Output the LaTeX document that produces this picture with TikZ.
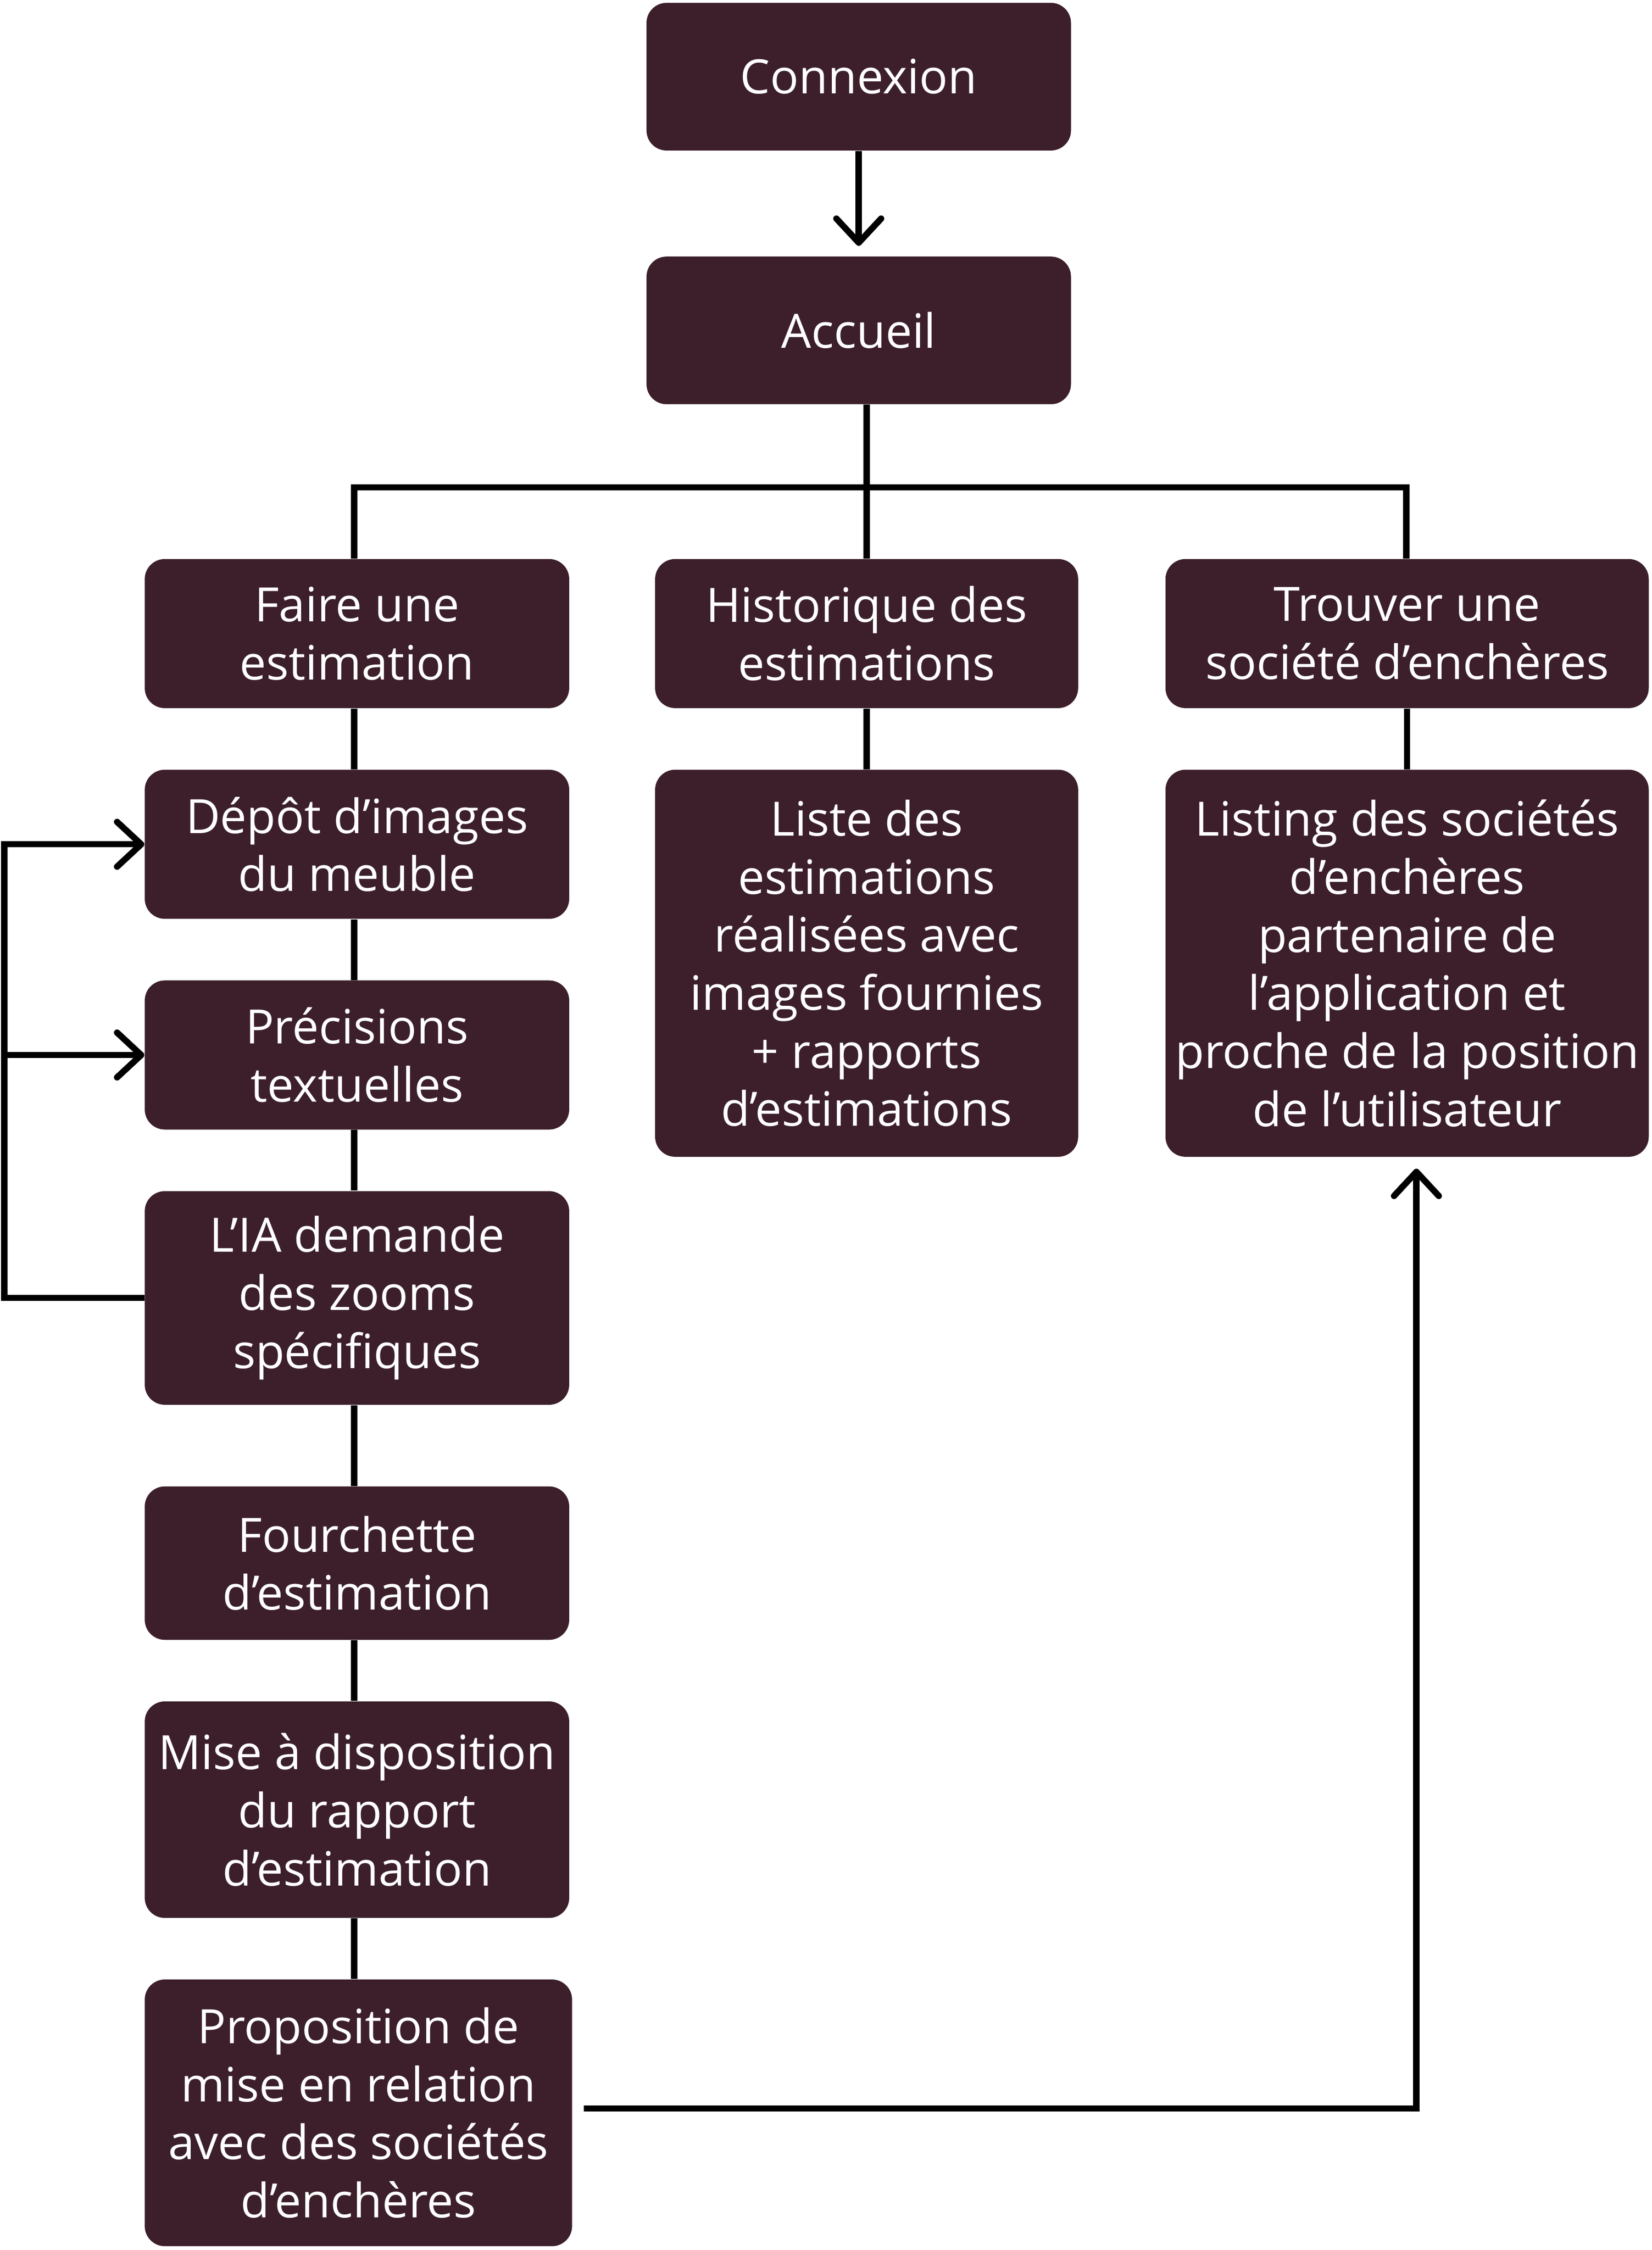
\documentclass[tikz,border=0pt]{standalone}
\usepackage{fontspec}
\setmainfont{Open Sans}
\usetikzlibrary{arrows.meta,positioning}
\definecolor{bordeaux}{HTML}{3C1F2B}
\tikzset{
    bloc/.style={fill=bordeaux, rounded corners=0.35cm, text=white, align=center, inner sep=0pt,
        font=\fontsize{23.5}{28.8}\selectfont, minimum width=7.4cm},
    lien/.style={line width=0.11cm, black},
    fleche/.style={lien, -{Straight Barb[round, length=0.42cm, width=0.78cm]}}
}

\begin{document}
\begin{tikzpicture}[x=0.025cm, y=-0.025cm]
    \useasboundingbox (0,0) rectangle (1152,1569.7);

    % haut
    \node[bloc, minimum height=2.575cm] (connexion) at (599,53.5) {Connexion};
    \node[bloc, minimum height=2.575cm] (accueil) at (599,230.5) {Accueil};

    % colonne gauche
    \node[bloc, minimum height=2.6cm] (faire) at (249,442) {Faire une\\estimation};
    \node[bloc, minimum height=2.6cm] (depot) at (249,589) {Dépôt d’images\\du meuble};
    \node[bloc, minimum height=2.6cm] (precisions) at (249,736) {Précisions\\textuelles};
    \node[bloc, minimum height=3.725cm] (zooms) at (249,905.5) {L’IA demande\\des zooms\\spécifiques};
    \node[bloc, minimum height=2.675cm] (fourchette) at (249,1090.5) {Fourchette\\d’estimation};
    \node[bloc, minimum height=3.775cm] (rapport) at (249,1262.5) {Mise à disposition\\du rapport\\d’estimation};
    \node[bloc, minimum height=4.65cm, minimum width=7.45cm] (proposition) at (250,1474) {Proposition de\\mise en relation\\avec des sociétés\\d’enchères};

    % colonne du milieu
    \node[bloc, minimum height=2.6cm, minimum width=7.375cm] (historique) at (604.5,442) {Historique des\\estimations};
    \node[bloc, minimum height=6.75cm, minimum width=7.375cm] (liste) at (604.5,672) {Liste des\\estimations\\réalisées avec\\images fournies\\+ rapports\\d’estimations};

    % colonne droite
    \node[bloc, minimum height=2.6cm, minimum width=8.425cm] (trouver) at (981.5,442) {Trouver une\\société d’enchères};
    \node[bloc, minimum height=6.75cm, minimum width=8.425cm] (listing) at (981.5,672) {Listing des sociétés\\d’enchères\\partenaire de\\l’application et\\proche de la position\\de l’utilisateur};

    % liens
    \draw[fleche, shorten >=0.18cm] (connexion) -- (accueil);
    \coordinate (busg) at (247,340);
    \coordinate (busd) at (981,340);
    \draw[lien] (accueil.south -| historique) -- (historique.north);
    \draw[lien] (faire.north -| busg) -- (busg) -- (busd) -- (trouver.north -| busd);
    \draw[lien] (historique) -- (liste);
    \draw[lien] (trouver) -- (listing);
    \foreach \haut/\bas in {faire/depot, depot/precisions, precisions/zooms, zooms/fourchette, fourchette/rapport, rapport/proposition}
        \draw[lien] (\haut.south -| busg) -- (\bas.north -| busg);

    % boucle des zooms
    \coordinate (boucle) at (3,905.5);
    \draw[fleche] (zooms.west) -- (boucle) -- (boucle |- depot) -- (depot.west);
    \draw[fleche] (boucle |- precisions) -- (precisions.west);

    % vers les sociétés
    \coordinate (coin) at (988,1471);
    \draw[fleche, shorten <=0.2cm, shorten >=0.2cm] (proposition.east |- coin) -- (coin) -- (coin |- listing.south);
\end{tikzpicture}
\end{document}
